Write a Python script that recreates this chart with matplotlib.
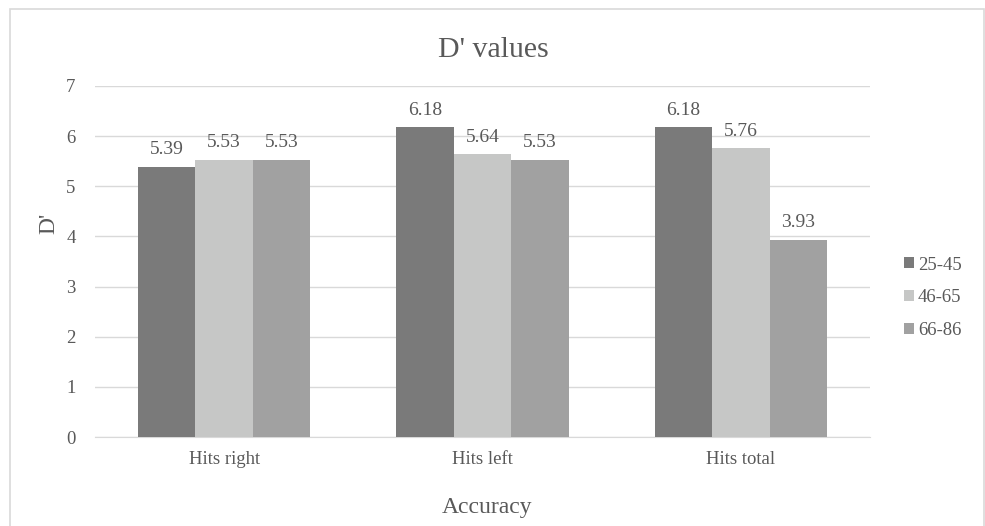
import matplotlib
matplotlib.use("Agg")
import matplotlib.pyplot as plt
import numpy as np
from matplotlib.patches import Rectangle

categories = ["Hits right", "Hits left", "Hits total"]
series_names = ["25-45", "46-65", "66-86"]
v_25_45 = [5.39, 6.18, 6.18]
v_46_65 = [5.53, 5.64, 5.76]
v_66_86 = [5.53, 5.53, 3.93]
values = [v_25_45, v_46_65, v_66_86]
colors = ["#7a7a7a", "#c6c7c6", "#a1a1a1"]

plt.rcParams['font.family'] = ['Liberation Serif', 'DejaVu Serif']
txt = "#595959"
W, H = 985, 526

fig = plt.figure(figsize=(9.85, 5.26), dpi=100)
ax = fig.add_axes([95/W, 1-437/H, (870-95)/W, (437-86)/H])

fig.patches.append(Rectangle((10/W, -20/H), (984-10)/W, (H-9+20)/H,
                             transform=fig.transFigure, fill=False,
                             edgecolor="#d9d9d9", linewidth=1.2))

x = np.arange(len(categories))
w = 0.222
for i, (name, vals, c) in enumerate(zip(series_names, values, colors)):
    pos = x + (i - 1) * w
    bars = ax.bar(pos, vals, width=w, color=c, label=name, zorder=3)
    for b, v in zip(bars, vals):
        ax.text(b.get_x() + b.get_width()/2, v + 0.34, f"{v:.2f}",
                ha="center", va="center", fontsize=14, color=txt)

ax.set_xlim(-0.5, 2.5)
ax.set_ylim(0, 7)
ax.set_yticks(range(0, 8))
ax.yaxis.grid(True, color="#d9d9d9", linewidth=1, zorder=0)
ax.set_axisbelow(True)
for s in ["top", "right", "left"]:
    ax.spines[s].set_visible(False)
ax.spines["bottom"].set_color("#d9d9d9")
ax.tick_params(axis="both", length=0, labelsize=13.5, colors=txt)
ax.tick_params(axis="y", pad=14)
ax.tick_params(axis="x", pad=10)
ax.set_xticks(x)
ax.set_xticklabels(categories)

fig.text(487/W, 1-508/H, "Accuracy", ha="center", va="center",
         fontsize=17, color=txt)
fig.text(49/W, 1-223/H, "D'", ha="center", va="center", rotation=90,
         fontsize=17, color=txt)
fig.text(493/W, 1-50/H, "D' values", ha="center", va="center",
         fontsize=21.5, color=txt)

leg = fig.legend(*ax.get_legend_handles_labels(), loc="center left",
                 bbox_to_anchor=(904/W, 1-298/H), frameon=False,
                 fontsize=13.5, handlelength=0.53, handleheight=0.53,
                 handletextpad=0.21, labelspacing=0.85, borderpad=0,
                 borderaxespad=0)
for t in leg.get_texts():
    t.set_color(txt)

fig.savefig("out.png", dpi=100)
